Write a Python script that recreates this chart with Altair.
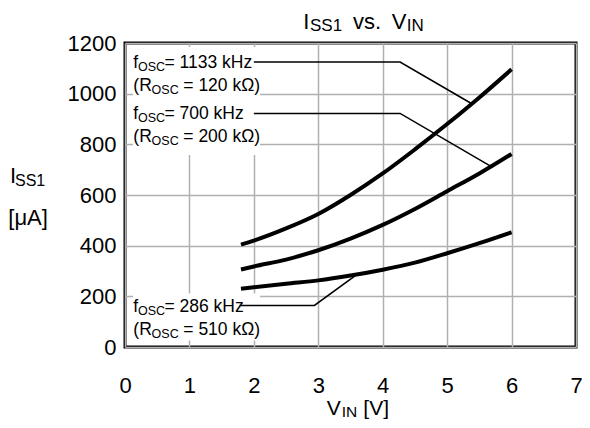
import altair as alt
import pandas as pd

# ---- curve data ----
vin = [1.8, 2.0, 2.5, 3.0, 3.5, 4.0, 4.5, 5.0, 5.5, 6.0]
iss_1133 = [404, 420, 468, 525, 600, 685, 780, 880, 985, 1096]
iss_700 = [306, 318, 345, 382, 428, 482, 545, 615, 685, 762]
iss_286 = [230, 236, 250, 263, 282, 305, 333, 370, 410, 453]
series_names = ["1133 kHz", "700 kHz", "286 kHz"]

# ---- leader lines (data coordinates) ----
lead_group = ["a", "a", "a", "b", "b", "b", "c", "c", "c"]
lead_x = [2.0, 4.27, 5.37, 2.0, 4.27, 5.68, 1.78, 2.94, 3.57]
lead_y = [1125, 1125, 962, 922, 922, 713, 164, 164, 281]

# ---- white label boxes ----
box_x = [0.124, 0.124]
box_x2 = [2.095, 2.095]
box_y = [758, 26]
box_y2 = [1184, 211]

# ---- label pieces ----
ann_text = [
    "f", "OSC", "= 1133 kHz",
    "(R", "OSC", "= 120 kΩ)",
    "f", "OSC", "= 700 kHz",
    "(R", "OSC", "= 200 kΩ)",
    "f", "OSC", "= 286 kHz",
    "(R", "OSC", "= 510 kΩ)",
    # title
    "I", "SS1", "vs.", "V", "IN",
    # y title
    "I", "SS1", "[μA]",
    # x title
    "V", "IN", "[V]",
]
ann_x = [
    0.129, 0.202, 0.612,
    0.129, 0.413, 0.905,
    0.129, 0.202, 0.612,
    0.129, 0.413, 0.905,
    0.129, 0.202, 0.612,
    0.129, 0.413, 0.905,
    2.767, 2.871, 3.539, 4.139, 4.372,
    -1.785, -1.707, -1.811,
    3.131, 3.363, 3.699,
]
ann_y = [
    1101, 1089, 1101,
    1010, 999, 1010,
    900, 888, 900,
    809, 797, 809,
    139, 126, 139,
    47, 36, 47,
    1257, 1247, 1257, 1257, 1247,
    646, 635, 482,
    -268, -276, -268,
]
ann_size = [
    17.5, 12.5, 17.5,
    17.5, 12.5, 17.5,
    17.5, 12.5, 17.5,
    17.5, 12.5, 17.5,
    17.5, 12.5, 17.5,
    17.5, 12.5, 17.5,
    22, 17, 22, 22, 17,
    22, 16, 22,
    21, 15.5, 21,
]

FONT = "Liberation Sans"

curves = pd.DataFrame({
    "vin": vin * 3,
    "iss": iss_1133 + iss_700 + iss_286,
    "series": [series_names[0]] * len(vin) + [series_names[1]] * len(vin) + [series_names[2]] * len(vin),
})
leads = pd.DataFrame({"g": lead_group, "x": lead_x, "y": lead_y, "o": list(range(len(lead_x)))})
boxes = pd.DataFrame({"x": box_x, "x2": box_x2, "y": box_y, "y2": box_y2})
ann = pd.DataFrame({"t": ann_text, "x": ann_x, "y": ann_y, "s": ann_size})

xscale = alt.Scale(domain=[0, 7], nice=False, zero=False)
yscale = alt.Scale(domain=[0, 1200], nice=False)

xaxis = alt.Axis(values=[0, 1, 2, 3, 4, 5, 6, 7], format="d", title=None, ticks=False, domain=False,
                 labelFontSize=22, labelFont=FONT, labelColor="black", labelPadding=28,
                 grid=True, gridColor="#b0b0b0", gridWidth=1.5, labelFlush=False)
yaxis = alt.Axis(values=[0, 200, 400, 600, 800, 1000, 1200], format="d", title=None, ticks=False,
                 domain=False, labelFontSize=22, labelFont=FONT, labelColor="black", labelPadding=9,
                 grid=True, gridColor="#b0b0b0", gridWidth=1.5, labelFlush=False)

lines = alt.Chart(curves).mark_line(color="black", strokeWidth=4, interpolate="monotone").encode(
    x=alt.X("vin:Q", scale=xscale, axis=xaxis),
    y=alt.Y("iss:Q", scale=yscale, axis=yaxis),
    detail="series:N",
)

box_layer = alt.Chart(boxes).mark_rect(color="white").encode(
    x=alt.X("x:Q", scale=xscale), x2="x2:Q",
    y=alt.Y("y:Q", scale=yscale), y2="y2:Q",
)

lead_layer = alt.Chart(leads).mark_line(color="black", strokeWidth=1.6).encode(
    x=alt.X("x:Q", scale=xscale), y=alt.Y("y:Q", scale=yscale),
    detail="g:N", order="o:Q",
)

text_layer = alt.Chart(ann).mark_text(align="left", baseline="alphabetic", font=FONT,
                                      color="black", clip=False).encode(
    x=alt.X("x:Q", scale=xscale), y=alt.Y("y:Q", scale=yscale),
    text="t:N",
    size=alt.Size("s:Q", scale=None, legend=None),
)

chart = alt.layer(box_layer, lead_layer, lines, text_layer).properties(
    width=451, height=304,
    autosize=alt.AutoSizeParams(type="none"),
    padding={"left": 117, "top": 35, "right": 6, "bottom": 73},
).configure_view(stroke="black", strokeWidth=3)

chart.save("out.html", embed_options={"renderer": "svg", "actions": False})
